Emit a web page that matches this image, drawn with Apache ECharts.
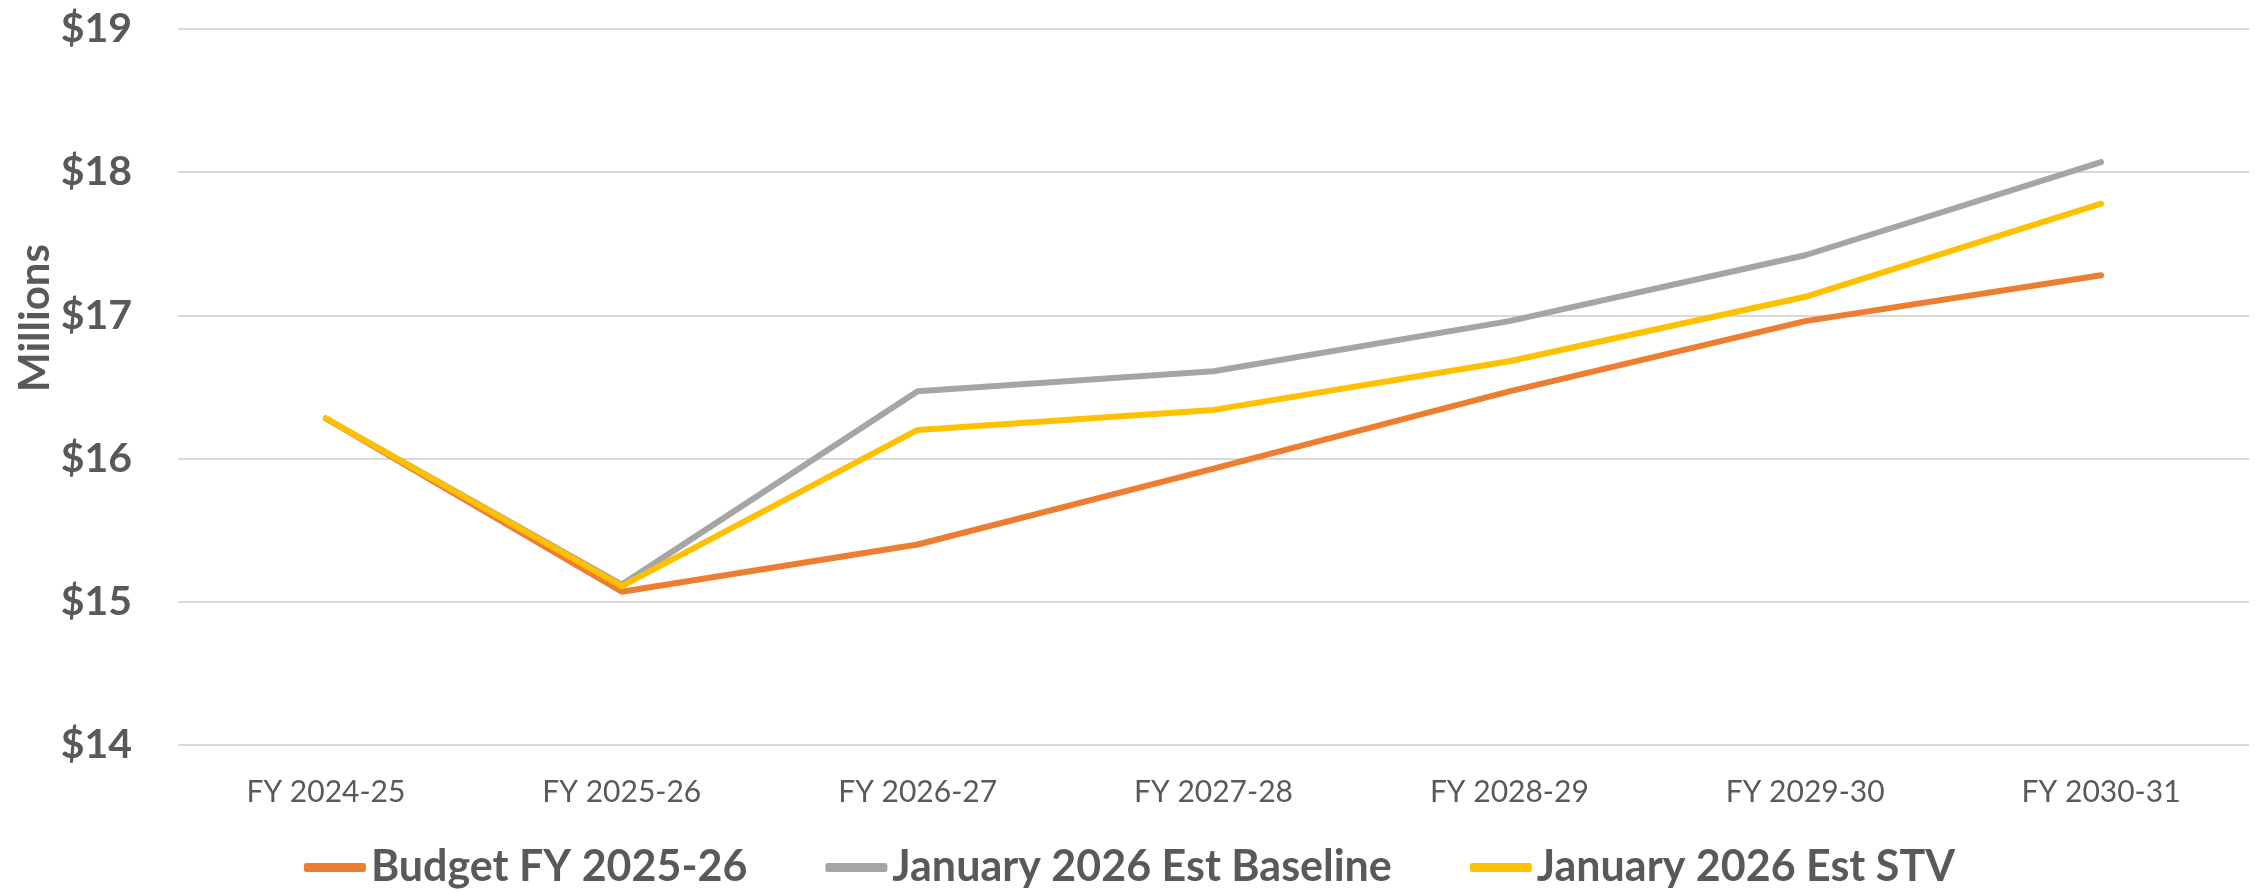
<!DOCTYPE html>
<html>
<head>
<meta charset="utf-8">
<title>Budget vs January 2026 Estimates</title>
<script src="https://cdn.jsdelivr.net/npm/echarts@6/dist/echarts.min.js"></script>
<style>
  html, body { margin: 0; padding: 0; background: #fff; }
  #main { width: 2259px; height: 892px; }
</style>
</head>
<body>
<div id="main"></div>
<script>
// categories and values (in $ millions)
const years = ["FY 2024-25", "FY 2025-26", "FY 2026-27", "FY 2027-28", "FY 2028-29", "FY 2029-30", "FY 2030-31"];
const budget = [16.28, 15.07, 15.40, 15.93, 16.47, 16.96, 17.28];
const baseline = [16.28, 15.12, 16.47, 16.61, 16.96, 17.42, 18.07];
const stv = [16.28, 15.11, 16.20, 16.34, 16.68, 17.13, 17.78];
const seriesNames = ["Budget FY 2025-26", "January 2026 Est Baseline", "January 2026 Est STV"];
const colors = ["#ED7D31", "#A5A5A5", "#FFC000"];

const chart = echarts.init(document.getElementById("main"));
const textColor = "#595959";

function lineSeries(name, data, color) {
  return {
    name: name,
    type: "line",
    data: data,
    showSymbol: false,
    symbol: "none",
    lineStyle: { color: color, width: 6, cap: "round", join: "round" },
    itemStyle: { color: color }
  };
}

const option = {
  animation: false,
  grid: { left: 178, right: 10, top: 29, bottom: 147, containLabel: false },
  legend: {
    data: seriesNames,
    top: 841,
    left: "center",
    icon: "roundRect",
    itemWidth: 62,
    itemHeight: 9,
    itemGap: 78,
    textStyle: { color: textColor, fontFamily: "Lato", fontWeight: "bold", fontSize: 43 }
  },
  xAxis: {
    type: "category",
    data: years,
    boundaryGap: true,
    axisLine: { show: false },
    axisTick: { show: false },
    axisLabel: { color: textColor, fontFamily: "Lato", fontSize: 30, margin: 32 }
  },
  yAxis: {
    type: "value",
    min: 14,
    max: 19,
    interval: 1,
    axisLine: { show: false },
    axisTick: { show: false },
    axisLabel: {
      color: textColor,
      fontFamily: "Lato",
      fontWeight: "bold",
      fontSize: 41,
      margin: 46,
      formatter: function (v) { return "$" + v; }
    },
    splitLine: { lineStyle: { color: "#D9D9D9", width: 2 } }
  },
  graphic: [
    {
      // rotated axis title, placed like the original (above the axis middle)
      type: "text",
      x: 35,
      y: 318,
      rotation: Math.PI / 2,
      style: {
        text: "Millions",
        fill: textColor,
        font: "bold 42px Lato",
        align: "center",
        verticalAlign: "middle"
      }
    }
  ],
  series: [
    lineSeries(seriesNames[0], budget, colors[0]),
    lineSeries(seriesNames[1], baseline, colors[1]),
    lineSeries(seriesNames[2], stv, colors[2])
  ]
};

chart.setOption(option);
</script>
</body>
</html>
